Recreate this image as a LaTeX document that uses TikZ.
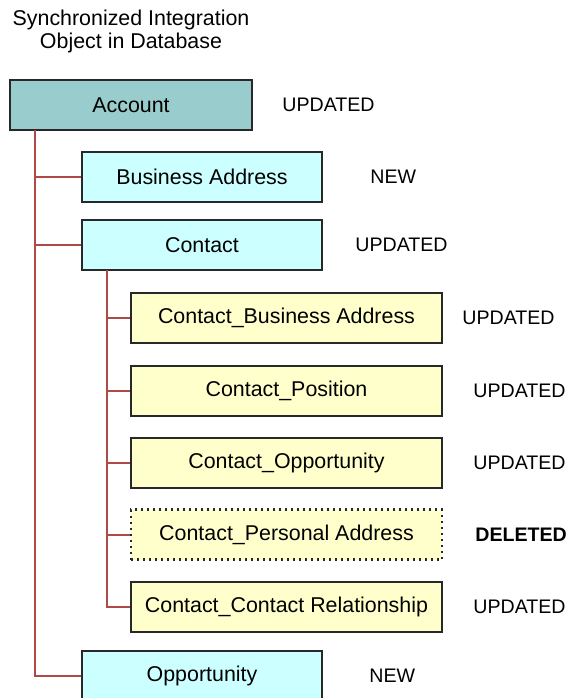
\documentclass[tikz,border=0pt]{standalone}
\usepackage{fontspec}
\setmainfont{Liberation Sans}
\usepackage{tikz}
\definecolor{acctteal}{RGB}{153,204,204}
\definecolor{boxcyan}{RGB}{204,255,255}
\definecolor{boxyellow}{RGB}{255,255,204}
\definecolor{treered}{RGB}{176,72,72}
\definecolor{boxline}{RGB}{40,40,40}
\tikzstyle{node_box} = [rectangle, draw=boxline, line width=1pt, inner sep=0pt, minimum height=25pt, font=\fontsize{10.7}{13}\selectfont]
\tikzstyle{node_root} = [node_box, fill=acctteal, minimum width=121pt]
\tikzstyle{node_child} = [node_box, fill=boxcyan, minimum width=120pt]
\tikzstyle{node_grand} = [node_box, fill=boxyellow, minimum width=155.5pt]
\tikzstyle{node_gone} = [node_grand, dotted, line width=1.2pt]
\tikzstyle{node_state} = [anchor=west, inner sep=0pt, font=\fontsize{9.8}{12}\selectfont]
\tikzstyle{edge_tree} = [draw=treered, line width=1pt]

\begin{document}
\begin{tikzpicture}[x=0.5pt, y=-0.5pt]
\useasboundingbox (0,0) rectangle (570,698);
\node (title) at (131,31) [align=center, font=\fontsize{10.7}{11.5}\selectfont] {Synchronized Integration\\Object in Database};

\node (acc) at (131,105) [node_root] {Account};
\node (busaddr) at (202,177) [node_child] {Business Address};
\node (cont) at (202,245) [node_child] {Contact};
\node (cbusaddr) at (286.5,318) [node_grand] {Contact\_Business Address};
\node (cpos) at (286.5,390.5) [node_grand] {Contact\_Position};
\node (copp) at (286.5,462.5) [node_grand] {Contact\_Opportunity};
\node (cpers) at (286.5,534.5) [node_gone] {Contact\_Personal Address};
\node (crel) at (286.5,606.5) [node_grand] {Contact\_Contact Relationship};
\node (opp) at (202,675.5) [node_child] {Opportunity};

\node (acc_st) at (282,105) [node_state] {UPDATED};
\node (busaddr_st) at (370,177) [node_state] {NEW};
\node (cont_st) at (355,245) [node_state] {UPDATED};
\node (cbusaddr_st) at (462,318) [node_state] {UPDATED};
\node (cpos_st) at (473,390.5) [node_state] {UPDATED};
\node (copp_st) at (473,462.5) [node_state] {UPDATED};
\node (cpers_st) at (475,534.5) [node_state] {\bfseries DELETED};
\node (crel_st) at (473,606.5) [node_state] {UPDATED};
\node (opp_st) at (369,675.5) [node_state] {NEW};

\coordinate (acctrunk) at (35,130);
\coordinate (conttrunk) at (107,270);

\draw[edge_tree] (acctrunk) |- (busaddr.west) (acctrunk) |- (cont.west) (acctrunk) |- (opp.west);
\draw[edge_tree] (conttrunk) |- (cbusaddr.west) (conttrunk) |- (cpos.west) (conttrunk) |- (copp.west);
\draw[edge_tree] (conttrunk) |- (cpers.west) (conttrunk) |- (crel.west);
\end{tikzpicture}
\end{document}
